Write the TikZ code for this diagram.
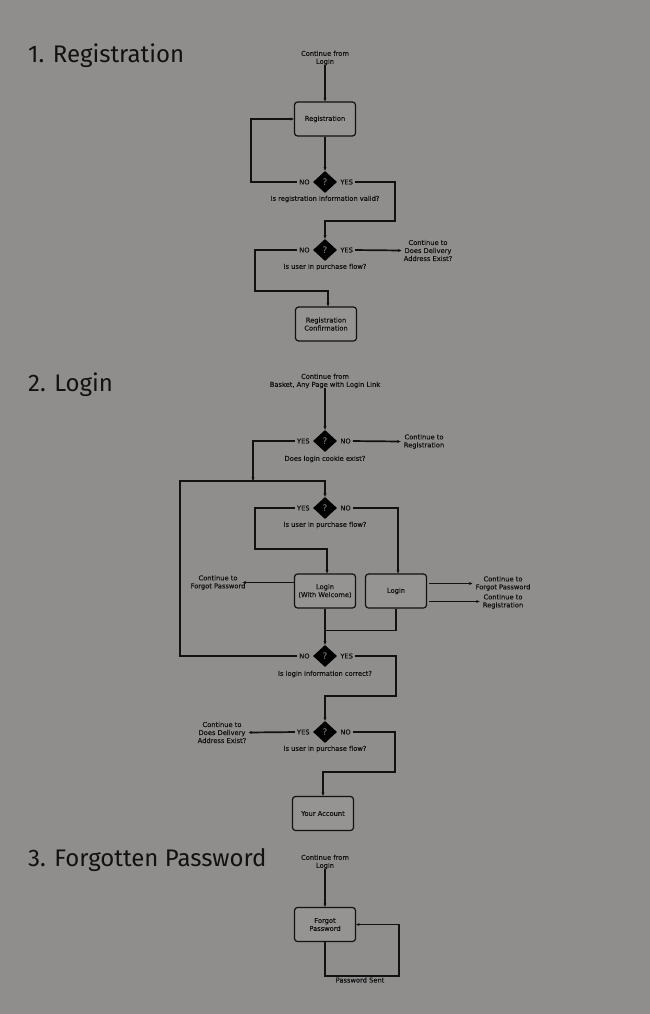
\documentclass[tikz,border=0pt]{standalone}
\usepackage{fontspec}
\setmainfont{DejaVu Sans}
\newfontfamily\smallfont{DejaVu Sans}[UprightFeatures={FakeBold=0.2}]
\newfontfamily\headfont{Fira Sans}
\usetikzlibrary{shapes.geometric,arrows.meta,calc}
\definecolor{bg}{HTML}{8F8E8D}
\definecolor{boxfill}{HTML}{959493}
\definecolor{ink}{HTML}{111111}
\definecolor{qmark}{HTML}{8A8988}
\tikzset{
  txt/.style={font=\smallfont\fontsize{6.7}{8}\selectfont, text=ink, align=center, inner sep=0pt},
  lbl/.style={font=\smallfont\fontsize{6.7}{8}\selectfont, text=ink, inner sep=0pt},
  stepbox/.style={draw=ink, line width=1.2pt, rounded corners=3pt, fill=boxfill,
    minimum width=61pt, minimum height=34pt, align=center,
    font=\smallfont\fontsize{6.7}{8}\selectfont, text=ink},
  dia/.style={diamond, fill=black, inner sep=0pt, minimum width=24pt, minimum height=22pt,
    text=qmark, font=\fontsize{9}{9}\selectfont},
  conn/.style={draw=ink, line width=1.7pt},
  arr/.style={conn, -{Stealth[length=3.5pt,width=3pt]}},
  fromlbl/.style={shorten <=2pt},
  head/.style={anchor=base west, font=\headfont\fontsize{24}{27}\selectfont, text=ink, inner sep=0pt}
}
\begin{document}
\begin{tikzpicture}[x=1pt,y=-1pt]
\fill[bg] (0,0) rectangle (650,1014);
\useasboundingbox (0,0) rectangle (650,1014);

% ---------- section headings
\node[head] (h1) at (28,63) {1. Registration};
\node[head] (h2) at (28,391) {2. Login};
\node[head] (h3) at (28,866) {3. Forgotten Password};

% ---------- 1. Registration
\node[txt] (r0) at (325,58) {Continue from\\Login};
\node[stepbox] (reg) at (325,119) {Registration};
\node[dia] (d1) at (325,182) {?};
\node[lbl, anchor=east] (d1no) at ($(d1.west)+(-3,0)$) {NO};
\node[lbl, anchor=west] (d1yes) at ($(d1.east)+(3,0)$) {YES};
\node[txt] (q1) at (325,199) {Is registration information valid?};

\node[dia] (d2) at (325,250) {?};
\node[lbl, anchor=east] (d2no) at ($(d2.west)+(-3,0)$) {NO};
\node[lbl, anchor=west] (d2yes) at ($(d2.east)+(3,0)$) {YES};
\node[txt] (q2) at (325,267) {Is user in purchase flow?};
\node[txt] (r2) at (428,250.5) {Continue to\\Does Delivery\\Address Exist?};
\node[stepbox] (conf) at (326,324) {Registration\\Confirmation};

\draw[arr] (r0) -- (reg);
\draw[arr] (reg) -- (d1);
\draw[arr, fromlbl] (d1no.west) -| ($(d1)+(-74,0)$) |- (reg.west);
\draw[arr, fromlbl] (d1yes.east) -| ($(d1)+(70,39)$) -| (d2.north);
\draw[arr, fromlbl] (d2yes.east) -- ([xshift=-2pt]r2.west);
\draw[arr, fromlbl] (d2no.west) -| ($(d2)+(-70,41)$) -| ($(conf.north)+(2,0)$);

% ---------- 2. Login
\node[txt] (l0) at (325,381) {Continue from\\Basket, Any Page with Login Link};
\node[dia] (d3) at (325,441) {?};
\node[lbl, anchor=east] (d3yes) at ($(d3.west)+(-3,0)$) {YES};
\node[lbl, anchor=west] (d3no) at ($(d3.east)+(3,0)$) {NO};
\node[txt] (q3) at (325,459) {Does login cookie exist?};
\node[txt] (l3r) at (424,441.5) {Continue to\\Registration};
\coordinate (merge) at ($(d3)+(0,40)$);

\node[dia] (d4) at (325,508) {?};
\node[lbl, anchor=east] (d4yes) at ($(d4.west)+(-3,0)$) {YES};
\node[lbl, anchor=west] (d4no) at ($(d4.east)+(3,0)$) {NO};
\node[txt] (q4) at (325,525) {Is user in purchase flow?};

\node[stepbox] (lw) at (325,591) {Login\\(With Welcome)};
\node[stepbox] (lg) at (396,591) {Login};
\node[txt] (cf1) at (218,582.5) {Continue to\\Forgot Password};
\node[txt] (cf2) at (503,583.5) {Continue to\\Forgot Password};
\node[txt] (cr2) at (503,601.5) {Continue to\\Registration};

\node[dia] (d5) at (325,656) {?};
\node[lbl, anchor=east] (d5no) at ($(d5.west)+(-3,0)$) {NO};
\node[lbl, anchor=west] (d5yes) at ($(d5.east)+(3,0)$) {YES};
\node[txt] (q5) at (325,674) {Is login information correct?};

\node[dia] (d6) at (325,732) {?};
\node[lbl, anchor=east] (d6yes) at ($(d6.west)+(-3,0)$) {YES};
\node[lbl, anchor=west] (d6no) at ($(d6.east)+(3,0)$) {NO};
\node[txt] (q6) at (325,749) {Is user in purchase flow?};
\node[txt] (cd) at (222,732.5) {Continue to\\Does Delivery\\Address Exist?};
\node[stepbox] (acct) at (323,813.5) {Your Account};

\draw[arr] (l0) -- (d3);
\draw[arr, fromlbl] (d3no.east) -- ([xshift=-3pt]l3r.west);
\draw[arr, fromlbl] (d3yes.west) -| ($(merge)+(-72,0)$);
\draw[arr, fromlbl] (d5no.west) -| ($(merge)+(-145,0)$) -- (merge) -- (d4.north);
\draw[arr, fromlbl] (d4yes.west) -| ($(d4)+(-70,41)$) -| ($(lw.north)+(2,0)$);
\draw[arr, fromlbl] (d4no.east) -| ($(lg.north)+(2,0)$);
\draw[arr] (lw.west |- cf1.east) -- ([xshift=-3pt]cf1.east);
\draw[arr] ([xshift=2pt]lg.east |- cf2.west) -- ([xshift=-3pt]cf2.west);
\draw[arr] ([xshift=2pt]lg.east |- cr2.west) -- ([xshift=-3pt]cr2.west);
\draw[arr] (lw.south) -- (d5.north);
\draw[conn] (lg.south) |- ($(lw.south)+(0,22)$);
\draw[arr, fromlbl] (d5yes.east) -| ($(d5)+(71,40)$) -| (d6.north);
\draw[arr, fromlbl] (d6yes.west) -- ([xshift=2pt]cd.east);
\draw[arr, fromlbl] (d6no.east) -| ($(d6)+(70,40)$) -| (acct.north);

% ---------- 3. Forgotten Password
\node[txt] (f0) at (325,862) {Continue from\\Login};
\node[stepbox] (fp) at (325,924.5) {Forgot\\Password};
\node[txt] (fs) at (360,980) {Password Sent};
\draw[arr] (f0) -- (fp);
\draw[arr] (fp.south) -- ++(0,34) -| ($(fp.east)+(43,0)$) -- (fp.east);
\end{tikzpicture}
\end{document}
